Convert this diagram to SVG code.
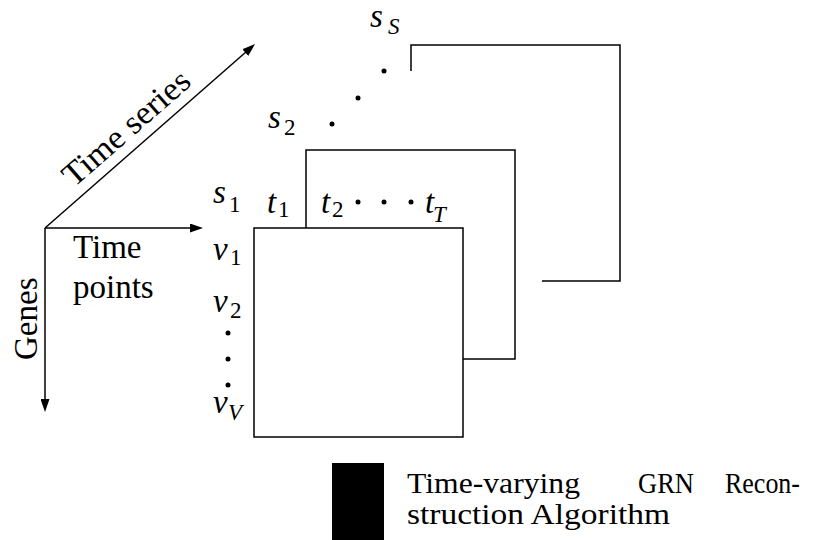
<svg xmlns="http://www.w3.org/2000/svg" width="835" height="540" viewBox="0 0 835 540">
<style>
.ln{fill:none;stroke:#000;stroke-width:1.5;stroke-linejoin:miter}
text{font-family:"Liberation Serif","DejaVu Serif",serif;fill:#000}
.t{font-size:33px}
.b{font-size:29px}
.m{font-style:italic;font-size:33px}
.sub{font-size:23px}
.subi{font-style:italic;font-size:23px}
.dot{fill:#000}
</style>
<defs>
<marker id="ah" markerUnits="userSpaceOnUse" viewBox="0 0 13 9" refX="7" refY="4.5" markerWidth="13" markerHeight="9" orient="auto">
<path d="M0,0 L13,4.5 L0,9 z" fill="#000"/>
</marker>
</defs>
<rect width="835" height="540" fill="#fff"/>
<g id="connectors">
<line class="ln" x1="45" y1="228" x2="197" y2="228" marker-end="url(#ah)"/>
<line class="ln" x1="45" y1="228" x2="45" y2="406" marker-end="url(#ah)"/>
<line class="ln" x1="45" y1="228" x2="250.5" y2="48" marker-end="url(#ah)"/>
</g>
<g id="axis-labels">
<text class="t" transform="translate(45,228) rotate(-41.2)" x="48" y="-11" textLength="158" lengthAdjust="spacingAndGlyphs">Time series</text>
<text class="t" x="73" y="258">Time</text>
<text class="t" x="73" y="298">points</text>
<text class="t" transform="translate(37,360) rotate(-90)" x="0" y="0">Genes</text>
</g>
<g id="slice-S">
<path class="ln" d="M411,71 V45 H620 V281 H542"/>
<text class="m" x="370" y="27">s</text><text class="subi" x="388" y="34">S</text>
</g>
<g id="slice-dots">
<circle class="dot" cx="384" cy="71" r="2.5"/>
<circle class="dot" cx="358" cy="98" r="2.5"/>
<circle class="dot" cx="332" cy="124" r="2.5"/>
</g>
<g id="slice-2">
<path class="ln" d="M306,228 V150 H515 V359 H463"/>
<text class="m" x="268" y="128">s</text><text class="sub" x="284" y="135">2</text>
</g>
<g id="slice-1">
<rect class="ln" x="254" y="228" width="209" height="209"/>
<text class="m" x="213" y="203">s</text><text class="sub" x="229" y="212">1</text>
<text class="m" x="267" y="213">t</text><text class="sub" x="278" y="217">1</text>
<text class="m" x="321" y="213">t</text><text class="sub" x="332" y="217">2</text>
<circle class="dot" cx="358" cy="202" r="2.5"/>
<circle class="dot" cx="384" cy="202" r="2.5"/>
<circle class="dot" cx="411" cy="202" r="2.5"/>
<text class="m" x="425" y="213">t</text><text class="subi" x="433" y="222">T</text>
<text class="m" x="213" y="260">v</text><text class="sub" x="230" y="265">1</text>
<text class="m" x="213" y="312">v</text><text class="sub" x="230" y="318">2</text>
<circle class="dot" cx="228" cy="333" r="2.5"/>
<circle class="dot" cx="228" cy="359" r="2.5"/>
<circle class="dot" cx="228" cy="385" r="2.5"/>
<text class="m" x="213" y="413">v</text><text class="subi" x="228" y="420">V</text>
</g>
<g id="algorithm">
<rect x="332" y="463" width="52" height="77" fill="#000"/>
<text class="b" x="407" y="493" textLength="173" lengthAdjust="spacingAndGlyphs">Time-varying</text>
<text class="b" x="638" y="493" textLength="56" lengthAdjust="spacingAndGlyphs">GRN</text>
<text class="b" x="725" y="493" textLength="75" lengthAdjust="spacingAndGlyphs">Recon-</text>
<text class="b" x="407" y="524" textLength="263" lengthAdjust="spacingAndGlyphs">struction Algorithm</text>
</g>
</svg>
